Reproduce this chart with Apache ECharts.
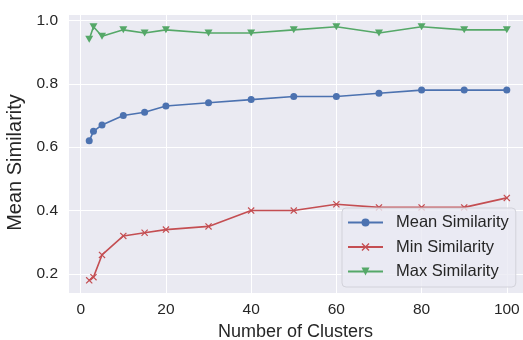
<!DOCTYPE html>
<html><head><meta charset="utf-8">
<script src="https://cdn.jsdelivr.net/npm/echarts@6/dist/echarts.min.js"></script>
<style>html,body{margin:0;padding:0;background:#fff}#c{width:523px;height:340px}</style>
</head><body><div id="c"></div>
<script>
const clusters = [2, 3, 5, 10, 15, 20, 30, 40, 50, 60, 70, 80, 90, 100];
const meanSim = [0.62, 0.65, 0.67, 0.70, 0.71, 0.73, 0.74, 0.75, 0.76, 0.76, 0.77, 0.78, 0.78, 0.78];
const minSim  = [0.18, 0.19, 0.26, 0.32, 0.33, 0.34, 0.35, 0.40, 0.40, 0.42, 0.41, 0.41, 0.41, 0.44];
const maxSim  = [0.94, 0.98, 0.95, 0.97, 0.96, 0.97, 0.96, 0.96, 0.97, 0.98, 0.96, 0.98, 0.97, 0.97];
const xTicks = [0, 20, 40, 60, 80, 100];
const yTicks = [0.2, 0.4, 0.6, 0.8, 1.0];

const font = 'Liberation Sans, Arial, sans-serif';
const xSym = 'path://M0,1.2L1.2,0L5,3.8L8.8,0L10,1.2L6.2,5L10,8.8L8.8,10L5,6.2L1.2,10L0,8.8L3.8,5Z';
const triDown = 'path://M0,0L10,0L5,8.7Z';
const pairs = arr => clusters.map((c, i) => [c, arr[i]]);
const near = (v, list) => list.some(t => Math.abs(t - v) < 1e-6);

const chart = echarts.init(document.getElementById('c'), null, {renderer: 'canvas'});
chart.setOption({
  animation: false,
  backgroundColor: '#ffffff',
  grid: {left: 68, top: 14, width: 455, bottom: 47, show: true, backgroundColor: '#eaeaf2', borderWidth: 0,
    containLabel: false, outerBoundsMode: 'none'},
  xAxis: {
    type: 'value', min: -2.98, max: 103.8, splitNumber: 5,
    name: 'Number of Clusters', nameLocation: 'middle', nameGap: 30,
    nameTextStyle: {fontFamily: font, fontSize: 18, color: '#262626'},
    axisLine: {show: false}, axisTick: {show: false},
    axisLabel: {fontFamily: font, fontSize: 15.5, color: '#262626', margin: 9, showMinLabel: false, showMaxLabel: false,
      formatter: v => near(v, xTicks) ? String(Math.round(v)) : ''},
    splitLine: {show: true, lineStyle: {color: '#ffffff', width: 1}}
  },
  yAxis: {
    type: 'value', min: 0.14, max: 1.02, splitNumber: 5,
    name: 'Mean Similarity', nameLocation: 'middle', nameGap: 43,
    nameTextStyle: {fontFamily: font, fontSize: 20, color: '#262626', padding: [0, 18, 0, 0]},
    axisLine: {show: false}, axisTick: {show: false},
    axisLabel: {fontFamily: font, fontSize: 15.5, color: '#262626', margin: 10, showMinLabel: false, showMaxLabel: false,
      formatter: v => near(v, yTicks) ? v.toFixed(1) : ''},
    splitLine: {show: true, lineStyle: {color: '#ffffff', width: 1}}
  },
  legend: {
    orient: 'vertical', left: 342, top: 208,
    padding: [6, 7, 7, 5], itemGap: 7.5, itemWidth: 35, itemHeight: 10,
    backgroundColor: 'rgba(234,234,242,0.8)', borderColor: '#d2d2da', borderWidth: 1, borderRadius: 4,
    textStyle: {fontFamily: font, fontSize: 16.5, color: '#262626', padding: [0, 0, 0, 8]},
    data: ['Mean Similarity', 'Min Similarity', 'Max Similarity']
  },
  series: [
    {name: 'Mean Similarity', type: 'line', data: pairs(meanSim), symbol: 'circle', symbolSize: 7,
      itemStyle: {color: '#4c72b0'}, lineStyle: {color: '#4c72b0', width: 1.6}},
    {name: 'Min Similarity', type: 'line', data: pairs(minSim), symbol: xSym, symbolSize: 7,
      itemStyle: {color: '#c44e52'}, lineStyle: {color: '#c44e52', width: 1.6}},
    {name: 'Max Similarity', type: 'line', data: pairs(maxSim), symbol: triDown, symbolSize: [8, 7],
      itemStyle: {color: '#55a868'}, lineStyle: {color: '#55a868', width: 1.6}}
  ]
});
</script></body></html>
